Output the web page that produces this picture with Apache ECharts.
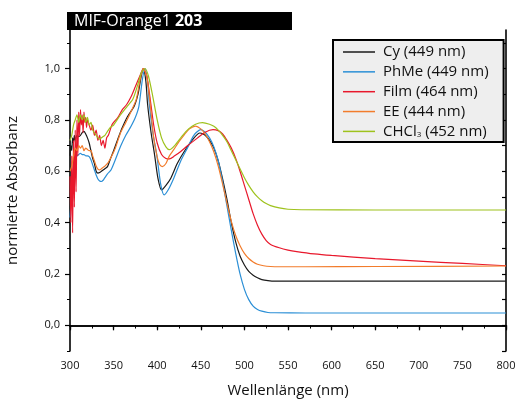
<!DOCTYPE html>
<html>
<head>
<meta charset="utf-8">
<script src="https://cdn.jsdelivr.net/npm/echarts@6/dist/echarts.min.js"></script>
<style>
  html, body { margin: 0; padding: 0; background: #fff; }
  #chart { width: 518px; height: 403px; }
</style>
</head>
<body>
<div id="chart"></div>
<script>
// Normalised absorption spectra of MIF-Orange1 203 in several media

const cyNm  = [300,301,302,303,304,305,306,308,310,312,314,316,318,320,322,324,326,328,330,332,334,336,340,343,346,350,354.6,360,366,373.6,378,381,384,387,389,393,397,401,405,410,415.6,423,431,442,449,455,460,465,470,475,480,485,490,495,500,505,510,515,520,527,535,570,650,800];
const cyAbs = [0.66,0.70,0.68,0.73,0.71,0.74,0.72,0.74,0.735,0.74,0.75,0.755,0.745,0.73,0.71,0.68,0.65,0.63,0.60,0.593,0.595,0.60,0.61,0.618,0.645,0.68,0.723,0.77,0.813,0.853,0.90,0.957,1.0,0.95,0.86,0.75,0.664,0.57,0.527,0.545,0.573,0.63,0.677,0.729,0.749,0.74,0.72,0.69,0.64,0.57,0.49,0.40,0.325,0.27,0.235,0.21,0.195,0.185,0.178,0.174,0.172,0.172,0.172,0.172];

const phmeNm  = [300,301,302,303,304,305,306,308,310,312,314,316,318,320,322,324,326,328,330,332,334,336,338,340,343,347,352,358,364,370,375,379,383,386,389,391,395,399.5,404,408,413,419,427,434.6,442,450,455,460,465,470,475,480,485,490,495,500,505,510,515,520,527,535,570,650,800];
const phmeAbs = [0.42,0.47,0.52,0.57,0.61,0.63,0.645,0.66,0.665,0.67,0.665,0.665,0.66,0.66,0.657,0.645,0.625,0.605,0.585,0.57,0.562,0.56,0.565,0.575,0.59,0.605,0.645,0.697,0.74,0.775,0.81,0.853,0.957,1.0,0.95,0.86,0.75,0.664,0.55,0.508,0.53,0.573,0.64,0.69,0.74,0.762,0.752,0.73,0.695,0.64,0.56,0.465,0.37,0.28,0.20,0.14,0.10,0.075,0.062,0.055,0.05,0.049,0.048,0.048,0.048];

const filmNm  = [300,301,302,303,304,305,306,307,308,309,310,311,312,313,314,315,316,317,318,319,320,322,324,326,328,330,332,334,336,338,340,342,344,346,348,350,355,360,365,370,375,380,384,388,392,396,400,405,410,414,420,427,435,446,455,464,470,475,480,485,490,495,500,505,510,515,520,525,530,540,550,560,580,600,650,700,750,800];
const filmAbs = [0.58,0.40,0.66,0.36,0.72,0.46,0.76,0.52,0.80,0.66,0.83,0.74,0.84,0.78,0.82,0.75,0.83,0.79,0.81,0.77,0.80,0.78,0.76,0.78,0.74,0.76,0.72,0.74,0.70,0.72,0.69,0.73,0.74,0.76,0.78,0.79,0.81,0.84,0.86,0.89,0.93,0.97,1.0,0.97,0.88,0.78,0.71,0.665,0.65,0.648,0.66,0.677,0.70,0.729,0.752,0.762,0.758,0.745,0.72,0.69,0.65,0.60,0.545,0.49,0.435,0.39,0.355,0.33,0.315,0.302,0.293,0.287,0.278,0.272,0.26,0.25,0.241,0.232];

const eeNm  = [300,302,304,306,308,310,312,314,316,318,320,322,324,326,328,330,332,334,336,338,340,344,348,352,358,364,370,376,380,384,388,392,396,400,403,406,410,414,419,425,431,437,444,450,455,460,465,470,475,480,485,490,495,500,505,510,515,522,530,540,570,650,800];
const eeAbs = [0.60,0.62,0.66,0.69,0.68,0.70,0.69,0.70,0.68,0.69,0.685,0.68,0.68,0.66,0.64,0.62,0.608,0.605,0.61,0.615,0.62,0.635,0.66,0.69,0.75,0.79,0.833,0.88,0.95,1.0,0.97,0.86,0.73,0.655,0.625,0.618,0.63,0.66,0.684,0.715,0.742,0.765,0.776,0.765,0.745,0.715,0.675,0.62,0.55,0.475,0.405,0.35,0.31,0.28,0.26,0.247,0.238,0.232,0.229,0.228,0.228,0.229,0.231];

const chcl3Nm  = [300,302,304,306,308,310,312,314,316,318,320,322,324,326,328,330,332,334,336,338,340,342,344,346,348,350,358,365,372,378,382,386,390,395,400,405,410,414,420,428,436,444,452,460,465,470,475,480,485,490,495,500,505,510,515,520,525,530,540,550,565,650,800];
const chcl3Abs = [0.72,0.74,0.78,0.80,0.82,0.79,0.82,0.80,0.82,0.79,0.81,0.78,0.79,0.76,0.75,0.74,0.73,0.725,0.73,0.735,0.74,0.75,0.76,0.77,0.775,0.78,0.82,0.85,0.88,0.94,0.985,1.0,0.97,0.89,0.80,0.73,0.695,0.684,0.70,0.735,0.765,0.783,0.789,0.783,0.775,0.76,0.74,0.715,0.68,0.645,0.61,0.575,0.545,0.52,0.50,0.485,0.474,0.466,0.457,0.452,0.45,0.449,0.449];

const seriesNames  = ['Cy (449 nm)', 'PhMe (449 nm)', 'Film (464 nm)', 'EE (444 nm)', 'CHCl3 (452 nm)'];
const seriesColors = ['#1a1a1a', '#2b8fd6', '#e8182c', '#f27c2c', '#9ec21c'];
const xTicks = [300, 350, 400, 450, 500, 550, 600, 650, 700, 750, 800];
const yMajor = [0, 0.2, 0.4, 0.6, 0.8, 1.0];
const yMinor = [-0.1, 0.1, 0.3, 0.5, 0.7, 0.9, 1.1];

const zip = (xs, ys) => xs.map((x, i) => [x, ys[i]]);
const seriesData = [
  zip(cyNm, cyAbs),
  zip(phmeNm, phmeAbs),
  zip(filmNm, filmAbs),
  zip(eeNm, eeAbs),
  zip(chcl3Nm, chcl3Abs)
];

const FONT = 'Open Sans';
const chart = echarts.init(document.getElementById('chart'), null, { renderer: 'canvas' });

const fmtComma = v => v.toFixed(1).replace('.', ',');

const option = {
  backgroundColor: '#ffffff',
  animation: false,
  textStyle: { fontFamily: FONT },
  grid: { left: 70, right: 12, top: 30, bottom: 52, containLabel: false, outerBoundsMode: 'none' },
  xAxis: [
    {
      type: 'value', min: xTicks[0], max: xTicks[xTicks.length - 1], interval: 50,
      position: 'bottom',
      name: 'Wellenlänge (nm)', nameLocation: 'middle', nameGap: 32,
      nameTextStyle: { fontFamily: FONT, fontSize: 15, color: '#111' },
      axisLine: { show: true, lineStyle: { color: '#000', width: 1.6 } },
      axisTick: { show: true, length: 5, inside: false, lineStyle: { color: '#000', width: 1.2 } },
      minorTick: { show: true, splitNumber: 2, length: 3, lineStyle: { color: '#000', width: 1 } },
      axisLabel: { color: '#111', fontSize: 11, margin: 9, fontFamily: FONT },
      splitLine: { show: false }
    },
    {
      type: 'value', min: xTicks[0], max: xTicks[xTicks.length - 1], interval: 50,
      position: 'top',
      axisLine: { show: true, lineStyle: { color: '#000', width: 1.6 } },
      axisTick: { show: true, length: 4, inside: true, lineStyle: { color: '#000', width: 1.2 } },
      minorTick: { show: true, splitNumber: 2, length: 3, lineStyle: { color: '#000', width: 1 } },
      axisLabel: { show: false },
      splitLine: { show: false }
    }
  ],
  yAxis: [
    {
      type: 'value', min: -0.1, max: 1.15,
      position: 'left',
      name: 'normierte Absorbanz', nameLocation: 'middle', nameGap: 50,
      nameTextStyle: { fontFamily: FONT, fontSize: 15, color: '#111' },
      axisLine: { show: true, lineStyle: { color: '#000', width: 1.6 } },
      axisTick: { show: true, length: 5, inside: false, customValues: yMajor, lineStyle: { color: '#000', width: 1.2 } },
      axisLabel: { color: '#111', fontSize: 11, margin: 10, fontFamily: FONT, customValues: yMajor, formatter: fmtComma },
      splitLine: { show: false }
    },
    {
      type: 'value', min: -0.1, max: 1.15,
      position: 'left',
      axisLine: { show: false },
      axisTick: { show: true, length: 3, inside: false, customValues: yMinor, lineStyle: { color: '#000', width: 1 } },
      axisLabel: { show: false, customValues: yMinor },
      splitLine: { show: false }
    },
    {
      type: 'value', min: -0.1, max: 1.15,
      position: 'right',
      axisLine: { show: true, lineStyle: { color: '#000', width: 1.6 } },
      axisTick: { show: true, length: 4, inside: true, customValues: yMajor.concat(yMinor), lineStyle: { color: '#000', width: 1.2 } },
      axisLabel: { show: false, customValues: yMajor },
      splitLine: { show: false }
    }
  ],
  legend: {
    orient: 'vertical',
    left: 333, top: 40,
    backgroundColor: '#eeeeee',
    borderColor: '#000', borderWidth: 2, borderRadius: 0,
    padding: [4.5, 15, 3, 10],
    itemGap: 4.85,
    itemWidth: 32, itemHeight: 1.5,
    icon: 'rect',
    data: seriesNames,
    textStyle: {
      fontFamily: FONT, fontSize: 15, color: '#111', lineHeight: 15,
      padding: [0, 0, 0, 3],
      rich: {
        sub: { fontFamily: FONT, fontSize: 8, color: '#111', verticalAlign: 'bottom', padding: [6, 0, 0, 0] }
      }
    },
    formatter: name => name.startsWith('CHCl3') ? 'CHCl{sub|3} (452 nm)' : name
  },
  graphic: [
    {
      type: 'rect', left: 67, top: 12,
      shape: { width: 225, height: 18 },
      style: { fill: '#000' },
      z: 10
    },
    {
      type: 'text', left: 74, top: 13,
      style: {
        text: '{n|MIF-Orange1 }{b|203}',
        fill: '#fff',
        rich: {
          n: { fontFamily: FONT, fontSize: 16, fill: '#fff', lineHeight: 18 },
          b: { fontFamily: FONT, fontSize: 16, fontWeight: 'bold', fill: '#fff', lineHeight: 18 }
        }
      },
      z: 11
    }
  ],
  series: seriesNames.map((name, i) => ({
    name,
    type: 'line',
    xAxisIndex: 0, yAxisIndex: 0,
    data: seriesData[i],
    symbol: 'none',
    smooth: 0.25,
    lineStyle: { color: seriesColors[i], width: 1.2 },
    itemStyle: { color: seriesColors[i] },
    z: 2 + i
  }))
};

chart.setOption(option);
</script>
</body>
</html>
